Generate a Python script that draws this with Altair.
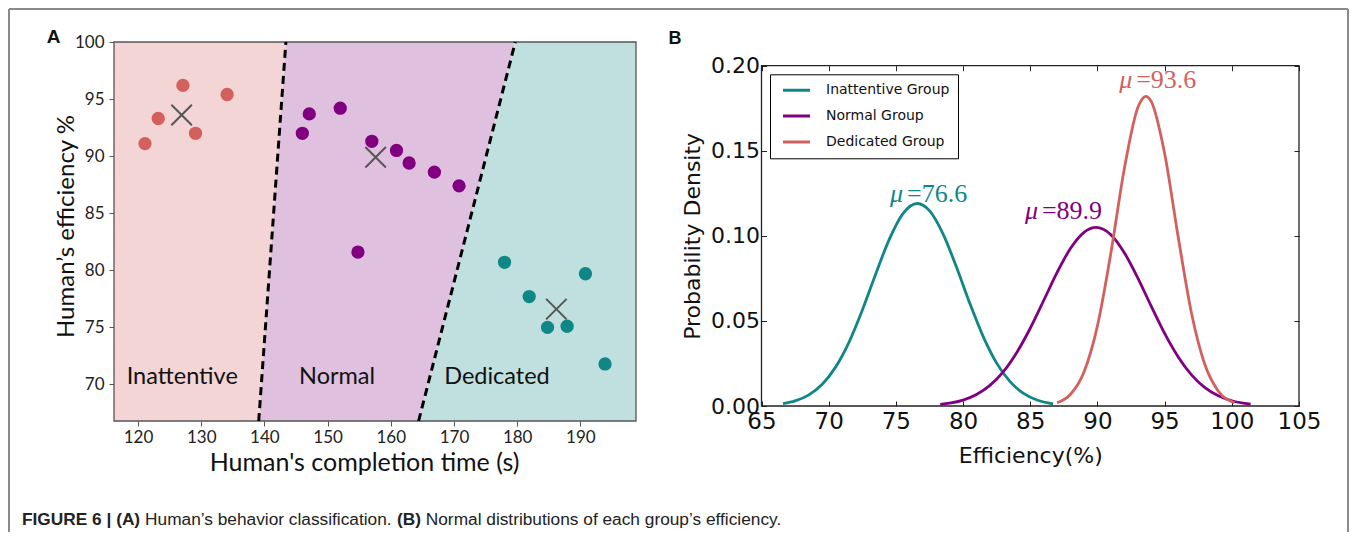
import altair as alt
import pandas as pd

# ---------------- Panel A data ----------------
inatt_time = [121.1, 123.2, 127.1, 129.1, 134.1]
inatt_eff = [91.1, 93.3, 96.2, 92.0, 95.4]
normal_time = [146.0, 147.1, 152.0, 157.0, 160.9, 162.9, 166.9, 170.8, 154.8]
normal_eff = [92.0, 93.7, 94.2, 91.3, 90.5, 89.4, 88.6, 87.4, 81.6]
ded_time = [178.0, 181.9, 190.8, 184.8, 187.9, 193.9]
ded_eff = [80.7, 77.7, 79.7, 75.0, 75.1, 71.8]
centroid_time = [126.9, 157.6, 186.2]
centroid_eff = [93.6, 89.9, 76.6]

time_domain = [116.2, 198.8]
eff_domain = [66.8, 100.0]
time_ticks = [120, 130, 140, 150, 160, 170, 180, 190]
eff_ticks = [70, 75, 80, 85, 90, 95, 100]

boundary_eff = [66.8, 100.0]
boundary1_time = [139.1, 143.4]
boundary2_time = [164.4, 179.7]

region_names = ["Inattentive", "Normal", "Dedicated"]
region_label_time = [127.0, 151.5, 176.8]
region_label_eff = [70.05, 70.05, 70.05]

# ---------------- Panel B data ----------------
group_names = ["Inattentive Group", "Normal Group", "Dedicated Group"]
inatt_curve_x = [66.6, 67.5, 68.5, 69.5, 70.5, 71.5, 72.5, 73.5, 74.5, 75.5, 76.6,
                 77.5, 78.5, 79.5, 80.5, 81.5, 82.5, 83.5, 84.5, 85.5, 86.7]
inatt_curve_y = [0.0014, 0.0030, 0.0064, 0.0126, 0.0227, 0.0373, 0.0563, 0.0776, 0.0978, 0.1128, 0.1190,
                 0.1148, 0.1013, 0.0818, 0.0604, 0.0408, 0.0252, 0.0143, 0.0074, 0.0035, 0.0013]
normal_curve_x = [78.3, 79, 80, 81, 82, 83, 84, 85, 86, 87, 88, 89, 89.9,
                  91, 92, 93, 94, 95, 96, 97, 98, 99, 100, 101.4]
normal_curve_y = [0.0010, 0.0017, 0.0035, 0.0068, 0.0121, 0.0202, 0.0315, 0.0457, 0.0620, 0.0785, 0.0927, 0.1021, 0.1050,
                  0.1007, 0.0901, 0.0753, 0.0587, 0.0427, 0.0290, 0.0183, 0.0108, 0.0060, 0.0031, 0.0011]
ded_curve_x = [87.0, 88, 89, 90, 91, 92, 93, 93.6, 94, 95, 96, 97, 98, 99, 100.2]
ded_curve_y = [0.0019, 0.0069, 0.0200, 0.0471, 0.0899, 0.1394, 0.1753, 0.1820,
               0.1790, 0.1484, 0.0998, 0.0545, 0.0242, 0.0087, 0.0019]

mu_text = ["=76.6", "=89.9", "=93.6"]
mu_x = [74.56, 84.6, 91.62]
mu_y = [0.1201, 0.1097, 0.1867]

effb_domain = [65, 105]
dens_domain = [0.0, 0.2]
effb_ticks = [65, 70, 75, 80, 85, 90, 95, 100, 105]
dens_ticks = [0.0, 0.05, 0.10, 0.15, 0.20]

caption_parts = ["FIGURE 6 | (A)", "Human\u2019s behavior classification.", "(B)",
                 "Normal distributions of each group\u2019s efficiency."]

# ---------------- styles / layout ----------------
RED, PURPLE, TEAL = "#d4605e", "#800080", "#0f8786"
BG = ["#f2d5d4", "#e0c0df", "#c0dfdf"]
A_W, A_H = 522, 379
B_X0, B_X1, B_Y0, B_Y1 = 647.5, 1185, 23.7, 364
TOTAL_W = B_X1

xA = alt.Scale(domain=time_domain, range=[0, A_W], nice=False, zero=False)
yA = alt.Scale(domain=eff_domain, range=[A_H, 0], nice=False, zero=False)

axA_x = alt.Axis(orient="bottom", values=time_ticks, grid=False, domain=False,
                 tickSize=5, tickColor="#555", labelFont="Lato", labelFontSize=17,
                 labelColor="#222", labelPadding=3, labelFlush=False, labelOverlap=False,
                 title="Human's completion time (s)", titleFont="Lato", titleFontSize=25,
                 titleFontWeight="normal", titleColor="#111", titleX=250, titleY=29)
axA_y = alt.Axis(orient="left", values=eff_ticks, grid=False, domain=False,
                 tickSize=5, tickColor="#555", labelFont="Lato", labelFontSize=17,
                 labelColor="#222", labelPadding=5, labelOverlap=False,
                 title="Human\u2019s efficiency %", titleFont="Lato", titleFontSize=24,
                 titleFontWeight="normal", titleColor="#111", titleX=-36, titleY=184)


def XA(field):
    return alt.X(field, scale=xA, axis=axA_x)


def YA(field):
    return alt.Y(field, scale=yA, axis=axA_y)


# regions
rows = []
lefts = [[time_domain[0]] * 2, boundary1_time, boundary2_time]
rights = [boundary1_time, boundary2_time, [time_domain[1]] * 2]
for name, l, r in zip(region_names, lefts, rights):
    for e, lv, rv in zip(boundary_eff, l, r):
        rows.append({"region": name, "eff": e, "t0": lv, "t1": rv})
regions_df = pd.DataFrame(rows)

regions = alt.Chart(regions_df).mark_area(orient="horizontal", opacity=1).encode(
    y=YA("eff:Q"), x=XA("t0:Q"), x2="t1:Q",
    color=alt.Color("region:N", scale=alt.Scale(domain=region_names, range=BG), legend=None),
)

frameA = alt.Chart(pd.DataFrame({"t0": [time_domain[0]], "t1": [time_domain[1]],
                                 "e0": [eff_domain[0]], "e1": [eff_domain[1]]})).mark_rect(
    fillOpacity=0, stroke="#555", strokeWidth=1.3).encode(
    x=XA("t0:Q"), x2="t1:Q", y=YA("e0:Q"), y2="e1:Q")

bound_df = pd.DataFrame({"eff": boundary_eff * 2, "t": boundary1_time + boundary2_time,
                         "line": ["b1", "b1", "b2", "b2"]})
bounds = alt.Chart(bound_df).mark_line(color="black", strokeWidth=3, strokeDash=[8, 5]).encode(
    x=XA("t:Q"), y=YA("eff:Q"), detail="line:N", order="eff:Q")


def pts(t, e, col):
    return alt.Chart(pd.DataFrame({"t": t, "e": e})).mark_circle(size=177, opacity=1, color=col).encode(
        x=XA("t:Q"), y=YA("e:Q"))


p1 = pts(inatt_time, inatt_eff, RED)
p2 = pts(normal_time, normal_eff, PURPLE)
p3 = pts(ded_time, ded_eff, TEAL)

cross = alt.Chart(pd.DataFrame({"t": centroid_time, "e": centroid_eff})).mark_point(
    shape="M-1,-1L1,1M-1,1L1,-1", size=420, filled=False, stroke="#555", strokeWidth=2, opacity=1).encode(
    x=XA("t:Q"), y=YA("e:Q"))

rlabels = alt.Chart(pd.DataFrame({"t": region_label_time, "e": region_label_eff, "txt": region_names})).mark_text(
    font="Lato", fontSize=23.5, color="#111", align="center", baseline="alphabetic").encode(
    x=XA("t:Q"), y=YA("e:Q"), text="txt:N")

panelA = alt.layer(regions, frameA, bounds, p1, p2, p3, cross, rlabels)

# ---------------- Panel B ----------------
xB = alt.Scale(domain=effb_domain, range=[B_X0, B_X1], nice=False, zero=False)
yB = alt.Scale(domain=dens_domain, range=[B_Y1, B_Y0], nice=False, zero=False)

axB_x = alt.Axis(orient="bottom", offset=-(A_H - B_Y1) - 5, values=effb_ticks, tickSize=5,
                 tickColor="#222", domain=False, grid=False, labelFont="DejaVu Sans", labelFontSize=23,
                 labelColor="#111", labelPadding=4, labelFlush=False, labelOverlap=False,
                 title="Efficiency(%)", titleFont="DejaVu Sans", titleFontSize=22,
                 titleFontWeight="normal", titleColor="#111", titlePadding=12)
axB_y = alt.Axis(orient="left", offset=-B_X0 - 5, values=dens_ticks, format=".2f", tickSize=5,
                 tickColor="#222", domain=False, grid=False, labelFont="DejaVu Sans", labelFontSize=22,
                 labelColor="#111", labelPadding=2, labelOverlap=False,
                 title="Probability Density", titleFont="DejaVu Sans", titleFontSize=22,
                 titleFontWeight="normal", titleColor="#111", titlePadding=6)
axB_top = alt.Axis(orient="top", offset=-B_Y0 - 5, values=effb_ticks, tickSize=5, tickColor="#222",
                   labels=False, domain=False, grid=False, title=None)
axB_right = alt.Axis(orient="right", offset=-(TOTAL_W - B_X1) - 5, values=dens_ticks, tickSize=5,
                     tickColor="#222", labels=False, domain=False, grid=False, title=None)

frameB = alt.Chart(pd.DataFrame({"x0": [effb_domain[0]], "x1": [effb_domain[1]],
                                 "y0": [dens_domain[0]], "y1": [dens_domain[1]]})).mark_rect(
    fillOpacity=0, stroke="#222", strokeWidth=1.3).encode(
    x=alt.X("x0:Q", scale=xB, axis=axB_top), x2="x1:Q",
    y=alt.Y("y0:Q", scale=yB, axis=axB_right), y2="y1:Q")

curve_df = pd.DataFrame({
    "x": inatt_curve_x + normal_curve_x + ded_curve_x,
    "y": inatt_curve_y + normal_curve_y + ded_curve_y,
    "grp": [group_names[0]] * len(inatt_curve_x) + [group_names[1]] * len(normal_curve_x)
           + [group_names[2]] * len(ded_curve_x),
})
curves = alt.Chart(curve_df).mark_line(strokeWidth=2.8, interpolate="monotone").encode(
    x=alt.X("x:Q", scale=xB, axis=axB_x),
    y=alt.Y("y:Q", scale=yB, axis=axB_y),
    color=alt.Color("grp:N", scale=alt.Scale(domain=group_names, range=[TEAL, PURPLE, RED]),
                    legend=alt.Legend(orient="none", legendX=656, legendY=32.3, title=None,
                                      strokeColor="black", fillColor="white", padding=8,
                                      symbolType="stroke", symbolSize=730, symbolStrokeWidth=3,
                                      symbolOffset=3, clipHeight=16,
                                      labelFont="DejaVu Sans", labelFontSize=14, labelColor="#111",
                                      labelOffset=14, rowPadding=9.8, cornerRadius=0,
                                      labelExpr="datum.label + '    '")),
)

mu_df = pd.DataFrame({"x": mu_x, "y": mu_y, "txt": mu_text, "grp": group_names})
mu_color = alt.Color("grp:N", scale=alt.Scale(domain=group_names, range=[TEAL, PURPLE, RED]), legend=None)
mu_sym = alt.Chart(mu_df).mark_text(text="\u03bc", font="Liberation Serif", fontStyle="italic", fontSize=26,
                                    align="left", baseline="alphabetic").encode(
    x=alt.X("x:Q", scale=xB, axis=None), y=alt.Y("y:Q", scale=yB, axis=None), color=mu_color)
mu_val = alt.Chart(mu_df).mark_text(font="Liberation Serif", fontSize=26, align="left",
                                    baseline="alphabetic", dx=17).encode(
    x=alt.X("x:Q", scale=xB, axis=None), y=alt.Y("y:Q", scale=yB, axis=None), text="txt:N",
    color=mu_color)

panelB = alt.layer(frameB, curves, mu_sym, mu_val).resolve_axis(x="independent", y="independent")

# ---------------- decorations: frame, panel letters, caption ----------------
one = pd.DataFrame({"a": [0]})
BORDER = "#8a8a8a"
b_left = alt.Chart(one).mark_rule(color=BORDER, strokeWidth=2).encode(
    x=alt.value(-105), y=alt.value(-33), y2=alt.value(490))
b_right = alt.Chart(one).mark_rule(color=BORDER, strokeWidth=2).encode(
    x=alt.value(1234), y=alt.value(-33), y2=alt.value(490))
b_top = alt.Chart(one).mark_rule(color=BORDER, strokeWidth=2).encode(
    x=alt.value(-105), x2=alt.value(1234), y=alt.value(-33))

letterA = alt.Chart(one).mark_text(text="A", font="Liberation Sans", fontWeight="bold", fontSize=19,
                                   align="center", baseline="middle", color="#111").encode(
    x=alt.value(-60.5), y=alt.value(-5))
letterB = alt.Chart(one).mark_text(text="B", font="Liberation Sans", fontWeight="bold", fontSize=18,
                                   align="center", baseline="middle", color="#111").encode(
    x=alt.value(561), y=alt.value(-3))

CAP_FS = 17.3
cap_x = [-92, -92 + 7.114 * CAP_FS, -92 + 21.674 * CAP_FS, -92 + 23.34 * CAP_FS]
cap_w = ["bold", "normal", "bold", "normal"]
caps = []
for txt, cx, w in zip(caption_parts, cap_x, cap_w):
    caps.append(alt.Chart(one).mark_text(text=txt, font="Liberation Sans", fontWeight=w, fontSize=CAP_FS,
                                         align="left", baseline="middle", color="#222").encode(
        x=alt.value(cx), y=alt.value(478)))

deco = alt.layer(b_left, b_right, b_top, letterA, letterB, *caps)

chart = alt.layer(panelA, panelB, deco).resolve_scale(
    x="independent", y="independent", color="independent"
).properties(width=TOTAL_W, height=A_H, padding=0).configure_view(strokeWidth=0)

chart.save("out.html", embed_options={"renderer": "svg", "actions": False})
